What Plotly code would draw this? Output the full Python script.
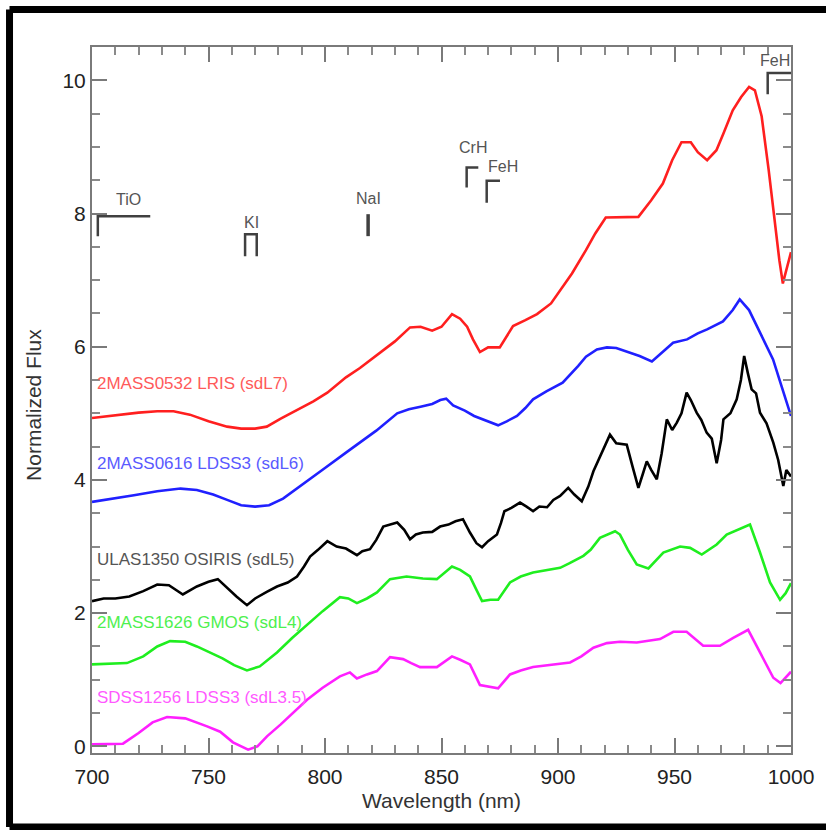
import plotly.graph_objects as go

# ---------------- data ----------------
red_w = [700, 710, 720, 728, 735, 742, 750, 758, 764, 770, 775, 781, 787, 795, 801, 809, 815, 824, 830, 836.5, 841, 846,
         850, 854.5, 858, 861, 863.5, 866.5, 870, 875, 880.7, 886, 891, 897, 901, 906, 912, 916, 920.5, 928, 934.5, 940,
         945, 949, 953, 957, 960, 964, 968, 971, 975, 978.6, 982, 984.5, 987.4, 990.4, 992.5, 995, 996.5, 998.3, 1000]
red_f = [4.93, 4.97, 5.01, 5.03, 5.03, 4.98, 4.88, 4.8, 4.77, 4.77, 4.8, 4.92, 5.03, 5.18, 5.31, 5.54, 5.68, 5.92, 6.08,
         6.29, 6.3, 6.24, 6.3, 6.49, 6.42, 6.3, 6.11, 5.92, 5.99, 5.99, 6.31, 6.4, 6.49, 6.65, 6.85, 7.1, 7.45, 7.7, 7.94,
         7.94, 7.95, 8.2, 8.45, 8.8, 9.07, 9.07, 8.92, 8.8, 8.95, 9.2, 9.55, 9.75, 9.9, 9.85, 9.46, 8.66, 8.0, 7.3, 6.95,
         7.2, 7.42]

blue_w = [700, 710, 718, 728, 738, 745, 752, 758, 764, 770, 776, 782, 788, 794, 800, 809, 815, 822, 831, 836, 841, 846,
          849.5, 852, 855, 860, 864, 870, 874.3, 878, 882.4, 886, 889.3, 895, 902, 908.6, 912, 916.7, 921, 925, 929.6, 935,
          940.3, 945, 949.4, 955.4, 960, 964, 970.8, 975, 978, 982, 985.4, 989, 992.3, 996, 1000]
blue_f = [3.67, 3.72, 3.77, 3.83, 3.87, 3.85, 3.78, 3.7, 3.62, 3.6, 3.62, 3.72, 3.87, 4.02, 4.18, 4.41, 4.56, 4.74, 5.0,
          5.06, 5.1, 5.14, 5.2, 5.22, 5.12, 5.04, 4.96, 4.88, 4.82, 4.88, 4.96, 5.08, 5.21, 5.33, 5.46, 5.71, 5.85, 5.96,
          5.99, 5.98, 5.93, 5.86, 5.78, 5.92, 6.06, 6.11, 6.2, 6.26, 6.38, 6.55, 6.71, 6.55, 6.31, 6.05, 5.81, 5.4, 4.96]

black_w = [700, 705, 710, 716, 722, 728, 733, 739, 745, 750, 754, 758, 762, 766.5, 770, 775, 779.4, 784, 788, 791, 793.6,
           797, 801, 805, 809, 813.7, 816, 819.3, 822, 825, 828, 831, 834, 836.5, 839, 842, 846, 849.4, 853, 856, 859.2,
           862.2, 865, 867.4, 870, 873.8, 875.5, 877, 880, 883.7, 886.5, 889.3, 892, 895.3, 898, 900.9, 904.4, 907,
           910.2, 913, 915.2, 918, 922.3, 925, 929.5, 932, 934.5, 936.5, 938.1, 940, 942.4, 944.5, 946.7, 949, 951, 953,
           955.2, 957, 959.5, 961.5, 963.8, 966, 968.1, 970, 971, 974, 976.7, 978.5, 979.9, 981.5, 983.1, 985, 986.7,
           989.5, 992.4, 994.5, 996.7, 998, 1000]
black_f = [2.18, 2.22, 2.22, 2.25, 2.33, 2.43, 2.42, 2.28, 2.4, 2.47, 2.51, 2.38, 2.25, 2.12, 2.22, 2.32, 2.4, 2.46, 2.55,
           2.7, 2.85, 2.95, 3.08, 3.0, 2.97, 2.87, 2.93, 2.96, 3.1, 3.3, 3.33, 3.36, 3.25, 3.11, 3.18, 3.21, 3.22, 3.3,
           3.33, 3.38, 3.41, 3.21, 3.05, 2.99, 3.08, 3.18, 3.35, 3.53, 3.58, 3.66, 3.6, 3.53, 3.6, 3.59, 3.7, 3.76, 3.88,
           3.78, 3.68, 3.9, 4.13, 4.35, 4.68, 4.55, 4.53, 4.2, 3.88, 4.1, 4.28, 4.15, 4.01, 4.4, 4.91, 4.75, 4.86, 5.0,
           5.31, 5.2, 5.01, 4.9, 4.71, 4.62, 4.25, 4.6, 4.91, 5.0, 5.21, 5.5, 5.86, 5.6, 5.36, 5.3, 5.01, 4.85, 4.56, 4.3,
           3.91, 4.15, 4.05]

green_w = [700, 708, 715, 722, 728, 733.5, 740, 745, 750.6, 756, 761, 766.5, 772, 779.4, 786, 792.3, 799, 806.4, 810,
           813.7, 818, 822.3, 827.9, 835, 842, 848, 851, 854.5, 858, 862.2, 865, 867.4, 871, 874.3, 879.4, 884, 889.3,
           895, 900.9, 905, 910.9, 914, 918, 924.5, 926.6, 930, 933.8, 938.8, 945.2, 952.4, 956.7, 961.7, 968.1, 972.4,
           977, 982.4, 986.7, 991, 995.3, 997.7, 1000]
green_f = [1.23, 1.24, 1.25, 1.35, 1.5, 1.58, 1.57, 1.5, 1.41, 1.32, 1.22, 1.14, 1.2, 1.41, 1.63, 1.83, 2.03, 2.24, 2.22,
           2.15, 2.22, 2.31, 2.51, 2.55, 2.52, 2.51, 2.6, 2.7, 2.65, 2.55, 2.35, 2.18, 2.2, 2.2, 2.46, 2.55, 2.61, 2.65,
           2.68, 2.75, 2.86, 2.95, 3.13, 3.23, 3.18, 2.95, 2.73, 2.67, 2.91, 3.0, 2.98, 2.88, 3.03, 3.18, 3.25, 3.33, 2.91,
           2.46, 2.2, 2.3, 2.45]

magenta_w = [700, 707, 713.3, 720, 726, 732.2, 740, 749.4, 755, 760.5, 764, 767, 771, 775.1, 781, 786, 792.3, 799, 806.4,
             810.7, 813.7, 818, 822.3, 827.9, 833.5, 837, 840.8, 848, 851, 854.5, 858, 862.2, 866.5, 870, 874.3, 879.4,
             884, 889.3, 897, 905.2, 910, 915.2, 921, 926.6, 933.8, 943.8, 949.5, 955.2, 962.3, 969.5, 975.2, 981.6,
             986.7, 992.4, 995.5, 998, 1000]
magenta_f = [0.03, 0.03, 0.04, 0.2, 0.36, 0.44, 0.42, 0.3, 0.22, 0.06, 0.0, -0.05, 0.0, 0.15, 0.33, 0.5, 0.7, 0.88, 1.05,
             1.11, 1.02, 1.08, 1.13, 1.34, 1.31, 1.25, 1.19, 1.19, 1.27, 1.35, 1.3, 1.23, 0.92, 0.9, 0.87, 1.08, 1.14,
             1.19, 1.22, 1.26, 1.35, 1.48, 1.55, 1.57, 1.56, 1.61, 1.72, 1.72, 1.51, 1.51, 1.63, 1.75, 1.41, 1.03, 0.95,
             1.05, 1.12]

series_names = ["2MASS0532 LRIS (sdL7)", "2MASS0616 LDSS3 (sdL6)", "ULAS1350 OSIRIS (sdL5)",
                "2MASS1626 GMOS (sdL4)", "SDSS1256 LDSS3 (sdL3.5)"]
series_label_y = [5.45, 4.25, 2.81, 1.86, 0.74]
series_colors = ["#ff1f1f", "#2020ff", "#000000", "#1fee1f", "#ff1fff"]
label_colors = ["#ff5a5a", "#5a5aff", "#555555", "#4ef04e", "#ff5aff"]

# spectral features: name, bracket type, x0, x1, top, bottom, label x, label y
feat_names = ["TiO", "KI", "NaI", "CrH", "FeH", "FeH"]
feat_kind = ["gamma", "pi", "bar", "gamma", "gamma", "gamma"]
feat_x0 = [702.5, 765.7, 818.5, 860.8, 869.4, 990.0]
feat_x1 = [725.0, 770.7, 818.5, 865.8, 875.1, 1000.0]
feat_top = [7.96, 7.69, 7.99, 8.69, 8.49, 10.11]
feat_bot = [7.66, 7.36, 7.66, 8.39, 8.16, 9.79]
feat_lx = [715.5, 768.5, 818.5, 863.5, 876.4, 993.3]
feat_ly = [8.21, 7.87, 8.23, 8.99, 8.71, 10.29]

FONT = "Liberation Sans, Arial, Helvetica, sans-serif"

fig = go.Figure()

all_w = [red_w, blue_w, black_w, green_w, magenta_w]
all_f = [red_f, blue_f, black_f, green_f, magenta_f]
for w, f, c, n in zip(all_w, all_f, series_colors, series_names):
    fig.add_trace(go.Scatter(x=w, y=f, mode="lines", name=n,
                             line=dict(color=c, width=2.6), showlegend=False, hoverinfo="skip"))

for n, y, c in zip(series_names, series_label_y, label_colors):
    fig.add_annotation(x=701.3, y=y, text=n, showarrow=False, xanchor="left", yanchor="middle",
                       font=dict(family=FONT, size=17, color=c))

for name, kind, x0, x1, top, bot, lx, ly in zip(feat_names, feat_kind, feat_x0, feat_x1,
                                                  feat_top, feat_bot, feat_lx, feat_ly):
    if kind == "gamma":
        xs, ys = [x0, x0, x1], [bot, top, top]
        width = 2.5
    elif kind == "pi":
        xs, ys = [x0, x0, x1, x1], [bot, top, top, bot]
        width = 2.5
    else:
        xs, ys = [x0, x0], [bot, top]
        width = 3.5
    fig.add_trace(go.Scatter(x=xs, y=ys, mode="lines", showlegend=False, hoverinfo="skip",
                             line=dict(color="#404040", width=width)))
    fig.add_annotation(x=lx, y=ly, text=name, showarrow=False, xanchor="center", yanchor="middle",
                       font=dict(family=FONT, size=16, color="#555555"))

# axis titles
fig.add_annotation(xref="paper", yref="paper", x=0.4993, y=-0.0675, text="Wavelength (nm)", showarrow=False,
                   xanchor="center", yanchor="middle", font=dict(family=FONT, size=21, color="#333333"))
fig.add_annotation(xref="paper", yref="paper", x=-0.083, y=0.493, text="Normalized Flux", showarrow=False,
                   textangle=-90, xanchor="center", yanchor="middle", font=dict(family=FONT, size=21, color="#333333"))

# outer frame (left, top, bottom edges; the right edge lies outside the picture)
frame_left, frame_right, frame_bottom, frame_top = -0.118, 1.2, -0.1048, 1.0531
for (fx0, fy0, fx1, fy1) in [(frame_left, frame_bottom, frame_left, frame_top),
                             (frame_left, frame_top, frame_right, frame_top),
                             (frame_left, frame_bottom, frame_right, frame_bottom)]:
    fig.add_shape(type="line", xref="paper", yref="paper", x0=fx0, y0=fy0, x1=fx1, y1=fy1,
                  line=dict(color="black", width=7), layer="above")

axis_common = dict(showline=True, linecolor="#7a7a7a", linewidth=2, mirror="ticks", ticks="inside",
                   tickcolor="#7a7a7a", tickwidth=2, ticklen=15, showgrid=False, zeroline=False,
                   tickfont=dict(family=FONT, size=21, color="#222222"))

fig.update_xaxes(range=[700, 1000], dtick=50, tick0=700, ticklabelstandoff=4,
                 minor=dict(dtick=10, ticks="inside", ticklen=8, tickcolor="#8a8a8a", tickwidth=1.5),
                 **axis_common)
fig.update_yaxes(range=[-0.1, 10.5], dtick=2, tick0=0,
                 minor=dict(dtick=0.5, ticks="inside", ticklen=8, tickcolor="#8a8a8a", tickwidth=1.5),
                 **axis_common)

fig.update_layout(width=826, height=830, margin=dict(l=92, r=35, t=47, b=77),
                  paper_bgcolor="white", plot_bgcolor="white", showlegend=False)

fig.write_html("out.html", config={"displayModeBar": False},
               post_script="document.body.style.margin='0';document.body.style.overflow='hidden';")
